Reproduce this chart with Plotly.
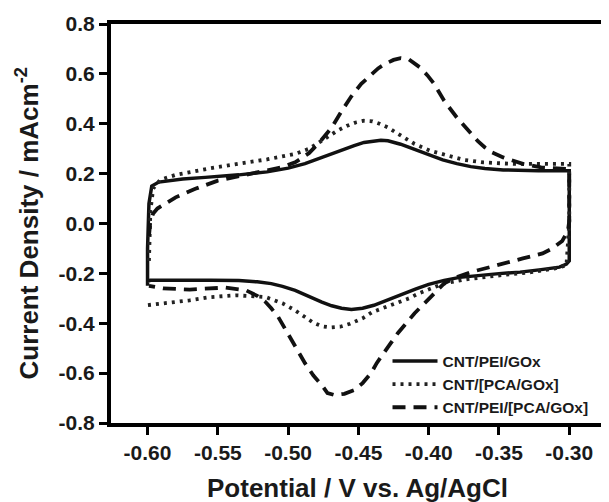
import plotly.graph_objects as go

# ---- data ----
series_names = ["CNT/PEI/GOx", "CNT/[PCA/GOx]", "CNT/PEI/[PCA/GOx]"]

solid_x = [-0.600, -0.600, -0.599, -0.597, -0.592, -0.575, -0.559, -0.535, -0.515, -0.500,
           -0.488, -0.476, -0.465, -0.453, -0.446, -0.439, -0.434, -0.429, -0.420, -0.410,
           -0.400, -0.390, -0.380, -0.370, -0.360, -0.347, -0.322, -0.305, -0.300, -0.300,
           -0.300, -0.302, -0.307, -0.320, -0.335, -0.350, -0.366, -0.378, -0.389, -0.400,
           -0.409, -0.418, -0.428, -0.439, -0.447, -0.455, -0.462, -0.469, -0.476, -0.485,
           -0.495, -0.504, -0.512, -0.522, -0.535, -0.555, -0.575, -0.598, -0.600]
solid_y = [-0.250, -0.100, 0.080, 0.150, 0.166, 0.178, 0.185, 0.195, 0.207, 0.222,
           0.240, 0.265, 0.290, 0.312, 0.325, 0.332, 0.334, 0.332, 0.318, 0.297,
           0.275, 0.255, 0.240, 0.228, 0.221, 0.215, 0.212, 0.212, 0.212, 0.000,
           -0.150, -0.163, -0.175, -0.185, -0.195, -0.201, -0.208, -0.216, -0.228, -0.244,
           -0.262, -0.281, -0.303, -0.328, -0.340, -0.345, -0.340, -0.330, -0.315, -0.292,
           -0.268, -0.252, -0.241, -0.234, -0.229, -0.228, -0.228, -0.228, -0.232]

dot_x = [-0.599, -0.598, -0.596, -0.591, -0.580, -0.570, -0.555, -0.535, -0.515, -0.495,
         -0.485, -0.478, -0.471, -0.465, -0.458, -0.452, -0.446, -0.440, -0.435, -0.429,
         -0.422, -0.416, -0.410, -0.399, -0.387, -0.375, -0.361, -0.340, -0.320, -0.301,
         -0.300, -0.300, -0.302, -0.310, -0.327, -0.345, -0.360, -0.375, -0.390, -0.400,
         -0.407, -0.414, -0.422, -0.431, -0.440, -0.447, -0.456, -0.463, -0.470, -0.476,
         -0.482, -0.488, -0.496, -0.504, -0.516, -0.537, -0.555, -0.570, -0.585, -0.601]
dot_y = [-0.150, 0.050, 0.140, 0.175, 0.195, 0.207, 0.222, 0.240, 0.257, 0.279,
         0.300, 0.325, 0.350, 0.372, 0.392, 0.405, 0.412, 0.410, 0.400, 0.385,
         0.360, 0.340, 0.319, 0.292, 0.272, 0.255, 0.245, 0.239, 0.239, 0.239,
         0.239, 0.000, -0.168, -0.180, -0.195, -0.205, -0.215, -0.225, -0.242, -0.262,
         -0.280, -0.300, -0.318, -0.335, -0.355, -0.380, -0.402, -0.414, -0.417, -0.412,
         -0.398, -0.375, -0.345, -0.320, -0.295, -0.288, -0.295, -0.308, -0.316, -0.328]

dash_x = [-0.599, -0.598, -0.596, -0.593, -0.580, -0.566, -0.550, -0.535, -0.520, -0.505,
          -0.495, -0.485, -0.477, -0.469, -0.462, -0.455, -0.448, -0.443, -0.436, -0.431,
          -0.425, -0.420, -0.414, -0.406, -0.401, -0.396, -0.389, -0.380, -0.370, -0.365,
          -0.360, -0.355, -0.347, -0.340, -0.333, -0.320, -0.300, -0.300, -0.300, -0.301,
          -0.305, -0.312, -0.319, -0.333, -0.347, -0.359, -0.370, -0.380, -0.389, -0.396,
          -0.403, -0.410, -0.416, -0.422, -0.427, -0.432, -0.437, -0.441, -0.447, -0.453,
          -0.460, -0.467, -0.472, -0.476, -0.482, -0.488, -0.494, -0.500, -0.507, -0.512,
          -0.516, -0.522, -0.530, -0.545, -0.570, -0.589, -0.599]
dash_y = [-0.050, 0.010, 0.040, 0.060, 0.105, 0.139, 0.172, 0.190, 0.205, 0.225,
          0.245, 0.283, 0.330, 0.385, 0.450, 0.510, 0.560, 0.585, 0.622, 0.640,
          0.656, 0.663, 0.658, 0.625, 0.595, 0.559, 0.492, 0.425, 0.359, 0.330,
          0.305, 0.285, 0.265, 0.250, 0.239, 0.225, 0.218, 0.100, 0.010, -0.030,
          -0.070, -0.100, -0.120, -0.140, -0.160, -0.176, -0.195, -0.215, -0.240, -0.280,
          -0.320, -0.360, -0.400, -0.440, -0.480, -0.520, -0.560, -0.600, -0.640, -0.668,
          -0.683, -0.688, -0.680, -0.648, -0.610, -0.560, -0.500, -0.440, -0.375, -0.340,
          -0.315, -0.290, -0.268, -0.257, -0.265, -0.260, -0.250]

x_tick_vals = [-0.60, -0.55, -0.50, -0.45, -0.40, -0.35, -0.30]
x_tick_text = ["-0.60", "-0.55", "-0.50", "-0.45", "-0.40", "-0.35", "-0.30"]
y_tick_vals = [0.8, 0.6, 0.4, 0.2, 0.0, -0.2, -0.4, -0.6, -0.8]
y_tick_text = ["0.8", "0.6", "0.4", "0.2", "0.0", "-0.2", "-0.4", "-0.6", "-0.8"]

x_title = "Potential / V vs. Ag/AgCl"
y_title = "Current Density / mAcm<sup>-2</sup>"

# ---- figure ----
FONT = "Liberation Sans, Arial, sans-serif"
fig = go.Figure()
fig.add_trace(go.Scatter(x=solid_x, y=solid_y, mode="lines", name=series_names[0],
                         line=dict(color="#111111", width=3.5, dash="solid")))
fig.add_trace(go.Scatter(x=dot_x, y=dot_y, mode="lines", name=series_names[1],
                         line=dict(color="#222222", width=3.8, dash="3px,5px")))
fig.add_trace(go.Scatter(x=dash_x, y=dash_y, mode="lines", name=series_names[2],
                         line=dict(color="#111111", width=3.8, dash="13px,8px")))

axis_common = dict(
    showline=True, linecolor="black", linewidth=4, mirror=True,
    ticks="outside", ticklen=8, tickwidth=3, tickcolor="black",
    showgrid=False, zeroline=False,
    tickfont=dict(family=FONT, size=21, color="#1a1a1a", weight="bold"),
)

fig.update_xaxes(range=[-0.626, -0.276], tickvals=x_tick_vals, ticktext=x_tick_text, **axis_common)
fig.update_yaxes(range=[-0.8, 0.8], tickvals=y_tick_vals, ticktext=y_tick_text, **axis_common)

# page body has an 8px margin, so the figure is sized/margined to compensate
fig.update_layout(
    width=601, height=494,
    margin=dict(l=103, r=2, t=16, b=79),
    paper_bgcolor="white", plot_bgcolor="white",
    showlegend=True,
    legend=dict(x=0.562, y=0.197, xanchor="left", yanchor="top",
                bgcolor="rgba(0,0,0,0)", borderwidth=0,
                font=dict(family=FONT, size=15.5, color="#1a1a1a", weight="bold"),
                itemwidth=45, tracegroupgap=0),
    annotations=[
        dict(text=x_title, xref="paper", yref="paper", x=0.5, y=0, yshift=-65,
             xanchor="center", yanchor="middle", showarrow=False,
             font=dict(family=FONT, size=26, color="#1a1a1a", weight="bold")),
        dict(text=y_title, xref="paper", yref="paper", x=0, y=0.5, xshift=-83,
             xanchor="center", yanchor="middle", showarrow=False, textangle=-90,
             font=dict(family=FONT, size=26, color="#1a1a1a", weight="bold")),
    ],
)

fig.write_html("out.html")
